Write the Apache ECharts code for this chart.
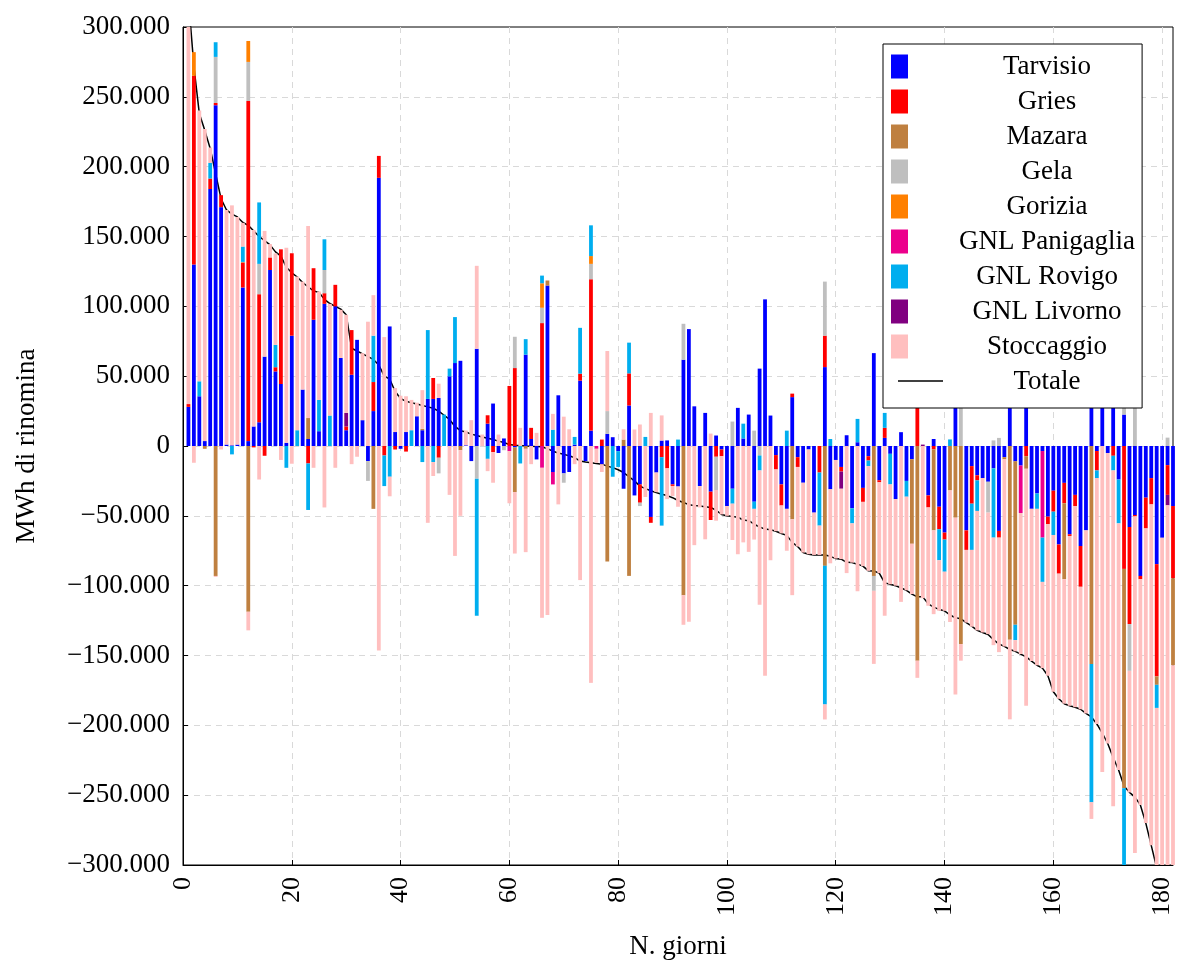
<!DOCTYPE html>
<html>
<head>
<meta charset="utf-8">
<script src="https://cdn.jsdelivr.net/npm/echarts@6/dist/echarts.min.js"></script>
<style>
  html, body { margin: 0; padding: 0; background: #fff; }
  #chart { width: 1177px; height: 965px; }
</style>
</head>
<body>
<div id="chart"></div>
<script>
// valori in migliaia di MWh, un valore per giorno (1..182), giorni ordinati per totale
const tarvisio = [
  28, 130, 35.6, 3.5, 184, 244, 171, 1, 0.5, 1,
  113.5, 3.5, 14, 17, 64, 126, 53.4, 44.4, 2.3, 79,
  0, 40.4, 5, 90.4, 10.6, 101.8, 0, 100, 63, 11.3,
  51, 76, 18.5, -10.8, 25, 192, 0, 85.6, 10, -2,
  10, 0, 21.3, 11.3, 33.7, 33.7, 34.4, 0, 49.9, 59.4,
  61, 0.5, -10.8, 69.6, 0, 16, 30.4, -5, 5.4, 0,
  -1, 0, 65.4, 5, -9.6, 0, 114.9, -18.6, 36.3, -19.6,
  -18.6, 1, 46.8, -10.8, 11, 0, -13, 8.7, 6.3, -3.7,
  -30.6, 29, -35.4, -27.5, 0, -50.8, -19, 3.9, 4, -27.5,
  -29, 61.8, 83.7, 28.4, -28.7, 23.7, -32.7, 7.5, -2.5, -43,
  -30.6, 27.3, 5.4, 22.5, -39.9, 55.4, 105, 21.8, -6.5, -27.5,
  -45, 35, -8, -26.3, -2.5, -47.7, 0, 56.5, -31, -10,
  -15, 7.7, -44.6, 2.7, -30, -7.3, 66.5, -24.5, 5.8, -5.6,
  -38, 9.9, -25, -9.5, 0, 0, -35.4, 5, -43.5, -62,
  0, 55, 0, -60.4, -14.4, -21, -23, -25.6, -16, -60.8,
  -8, 50, -11, -14, 35, -45, -34, -3.6, -50.6, -32,
  -70.5, -26.4, -63.2, -35, -71.6, -60.4, 73, -3.6, 28, -5,
  35, -24, 22.5, -58, -49.4, -93, -37, -23, -84.6, -65.7,
  -13.7, -43
];
const gries = [
  2, 135, 0, 0, 7.5, 1.6, 8.6, 0, 0, 0,
  17.8, 243.5, -1, 91.7, -7, 9, 3, 96.4, 0, 59,
  0, 0, -12.5, 36.9, 0, 7.6, 0, 15.4, 0, 2.7,
  32, 0, 0, 0, 20.8, 15.7, -6.8, 0, -2.5, 0,
  -4, 0, 0, 0, 0, 15, -8.4, 0, 0, 0,
  0, 0, 0, 0, 0, 6, -4.4, 0, 0, 43,
  55.8, 0, 0, 8, 0, 88, 0, 0, 0, 0,
  0, 0, 5, 0, 108.4, 0, 4.6, 0, 0, 0,
  0, 23, 0, -13.1, 0, -4.2, 0, -8, -16, -1.1,
  0, 0, 0, 0, 0, 0, -20.3, -7.7, -4.8, 0,
  0, 0, 0, 0, 0, 0, 0, 0, -10.3, -15.1,
  0, 2.5, -7, 0, 0, 0, -19, 22.5, 0, 0,
  -3.3, 0, 0, 0, -10, -3.1, 0, -1.5, 7.2, 0,
  0, 0, 0, 0, 58, 0, -8.6, -2.4, -16.1, -5,
  0, 0, 0, -14, -26.9, -3.6, 0, 0, 0, -4.8,
  0, 0, 0, 0, -7.3, 0, 0, 0, -5.4, -15,
  -20.9, -14.6, -1.2, -8, -29.2, 0, 0, -13.9, 0, 0,
  -7, 0, -88, -69.5, -1, -2.4, -22, -18.8, -80.4, 0,
  -21.3, -51.8
];
const mazara = [
  0, 0, 0, -2, 0, -93, 0, 0, 0, 0,
  0.5, -118.7, 0, 0, 0, 0, 0, 0, 0, 0,
  0, 0, 15, 0, 0, 0, 0, 0, 0, 0,
  0, 0, 0, 0, -45, 0, 0, 0, 0, 0,
  0, 0, 0, 1, 0, 0, 0, 0, 0, 0,
  -3, 0, 0, 0, 0, 0, 0, 0, 0, 0,
  -32, 0, -2, 0, 0, 0, 3.6, 0, 0, 0,
  0, 0, 0, 0, 0, 0, 0, -82.7, 0, 0,
  4.6, -93, 0, 0, 0, 0, 0, 0, 0, 0,
  0, -106.8, 0, 0, 0, 0, 0, 0, 0, 0,
  0, 0, 0, 0, 0, 0, 0, 0, 0, 0,
  0, -52.5, 0, 0, 0, 0, 0, -85.8, 0, 0,
  0, 0, 0, 0, 0, 0, -93, 0, 0, 0,
  0, 0, 0, -60.5, -153.7, 0, 0, -58, 0, 0,
  -31.8, -51.3, -141.8, 0, 0, 0, 0, 0, 0, 0,
  -1.5, -138.7, -117, 0, -9, 0, 0, 0, 0, 0,
  0, -54.4, 0, 0, 0, 0, -156, 0, 0, 0,
  0, 0, -157, 0, 0, 0, 0, 0, -6, 0,
  0, -62.2
];
const gela = [
  0, 0, 0, 0, 0, 33, 0, 0, 0, 0,
  0, 28, 0, 21.7, 0, 0, 0, 0, 0, 0,
  0, 0, 0, 0, 0, 16.6, 0, 0, 0, 0,
  0, 0, 0, -14.2, 0, 0, 0, 0, 0, 0,
  0, 0, 0, 0, 0, 0, -11.2, 0, 0, 0,
  0, 0, 0, -23.4, 0, 0, 0, 0, -3, 0,
  22.4, 0, 0, 0, 0, 11, 0, 0, 0, -6.7,
  0, 0, 0, 0, 11, 0, 0, 16.3, 0, 0,
  0, 0, 0, -2.4, 0, 0, 0, 0, 0, 0,
  0, 25.7, 0, 0, 0, 0, 0, -23.8, 0, 0,
  17.5, 0, 0, 0, 11, -6.8, 0, 0, 0, 0,
  0, 0, 0, 0, 0, 0, 0, 38.7, 0, 0,
  0, 0, 0, 0, 0, 0, -10.7, 0, 0, 0,
  0, 0, 0, 0, 0, 0, 0, 0, 0, 0,
  0, 0, 30, 0, 0, 0, 0, -22.1, 4, 5.8,
  0, 0, 0, 0, 0, 0, 0, 0, 0, 0,
  0, 0, 0, 0, 0, 0, 0, 0, 0, 0,
  0, 0, 37, -33.5, 40, 0, 0, 0, 0, 0,
  6, 0
];
const gorizia = [
  0, 17, 0, 0, 0, 0, 0, 0, 0, 0,
  0, 15, 0, 0, 0, 0, 0, 0, 0, 0,
  0, 0, 0, 0, 0, 0, 0, 0, 0, 0,
  0, 0, 0, 0, 0, 0, 0, 0, 0, 0,
  0, 0, 0, 0, 0, 0, 0, 0, 0, 0,
  0, 0, 0, 0, 0, 0, 0, 0, 0, 0,
  0, 0, 0, 0, 0, 17.5, 0, 0, 0, 0,
  0, 0, 0, 0, 5.6, 0, 0, 0, 0, 0,
  0, 0, 0, 0, 0, 0, 0, 0, 0, 0,
  0, 0, 0, 0, 0, 0, 0, 0, 0, 0,
  0, 0, 0, 0, 0, 0, 0, 0, 0, 0,
  0, 0, 0, 0, 0, 0, 0, 0, 0, 0,
  0, 0, 0, 0, 0, 0, 0, 0, 0, 0,
  0, 0, 0, 0, 0, 0, 0, 0, 0, 0,
  0, 0, 0, 0, 0, 0, 0, 0, 0, 0,
  0, 0, 0, 0, 0, 0, 0, 0, 0, 0,
  0, 0, 0, 0, 0, 0, 0, 0, 0, 0,
  0, 0, 0, 0, 0, 0, 0, 0, 0, 0,
  0, 0
];
const panigaglia = [
  0, 0, 0, 0, 0, 0, 0, 0, 0, 0,
  0, 0, 0, 0, 0, 0, 0, 0, 0, 0,
  0, 0, 0, 0, 0, 0, 0, 0, 0, 0,
  0, 0, 0, 0, 0, 0, 0, 0, 0, 0,
  0, 0, 0, 0, 0, 0, 0, 0, 0, 0,
  0, 0, 0, 0, 0, 0, 0, 0, 0, -3.7,
  0, 0, 0, 0, 0, -15.6, 0, -8.9, 0, 0,
  0, 0, 0, 0, 0, -2, 0, 0, 0, 0,
  0, 0, 0, 0, 0, 0, 0, 0, 0, 0,
  0, 0, 0, 0, 0, 0, 0, 0, 0, 0,
  0, 0, 0, 0, 0, 0, 0, 0, 0, 0,
  0, 0, 0, 0, 0, 0, 0, 0, 0, 0,
  0, 0, 0, 0, 0, 0, 0, 0, 0, 0,
  0, 0, 0, 0, 0, 0, 0, 0, 0, 0,
  0, 0, 0, 0, 0, 0, 0, 0, 0, 0,
  0, 0, 0, -34, 0, 0, 0, -62, 0, 0,
  0, 0, 0, 0, 0, 0, 0, 0, 0, 0,
  0, 0, 0, 0, 0, 0, 0, 0, 0, 0,
  0, 0
];
const rovigo = [
  0, 0, 10.7, 0, 11.2, 10.5, 0, 0, -6, 0,
  11, 0, 0, 44, 0, 0, 16, 0, -15.6, 0,
  11.3, 0, -33.3, 0, 22.4, 22, 21.8, 0, 0, 0,
  0, 0, 0, 0, 33.2, 0, -21.9, -22, 0, 0,
  0, 11.3, 0, -11.5, 49.3, -11.5, 0, 22.5, 5.5, 32.9,
  0, 0, 0, -98.1, 0, -9.2, 0, 0, 0, 0,
  0, -12.5, 11.1, 0, 0, 5.5, 0, 11.7, 0, 0,
  0, 5.5, 32.8, 0, 22, 0, 0, 0, -22, -11.3,
  0, 22, 0, 0, 6.5, 0, 0, -49, 0, 0,
  4.6, 0, 0, 0, 0, 0, 0, 0, 0, 0,
  -10.7, 0, 10.6, 0, -5.1, -10.7, 0, 0, 0, 0,
  11, 0, 0, 0, 0, 0, -38, -99.2, 5, 0,
  0, 0, -10.8, 16.7, 0, -4, 0, 0, 10.7, -21.9,
  0, 0, -11.3, 0, 0, 0, 0, 0, -22.2, -23,
  4.7, 0, 0, 0, -33.1, -21.9, 0, 0, -49.6, 0,
  0, 0, -11, 0, 0, 0, -11, -31.7, 0, -16.7,
  0, 0, 0, 0, 0, 0, -99, -5.5, 0, 0,
  -10.5, -31.4, -58, 0, 0, 0, 0, 0, -16.5, 0,
  0, 0
];
const livorno = [
  0, 0, 0, 0, 0, 0, 0, 0, 0, 0,
  0, 0, 0, 0, 0, 0, 0, 0, 0, 0,
  0, 0, 0, 0, 0, 0, 0, 0, 0, 9.7,
  0, 0, 0, 0, 0, 0, 0, 0, 0, 0,
  0, 0, 0, 0, 0, 0, 0, 0, 0, 0,
  0, 0, 0, 0, 0, 0, 0, 0, 0, 0,
  0, 0, 0, 0, 0, 0, 0, 0, 0, 0,
  0, 0, 0, 0, 0, 0, 0, 0, 0, 0,
  0, 0, 0, 0, 0, 0, 0, 0, 0, 0,
  0, 0, 0, 0, 0, 0, 0, 0, 0, 0,
  0, 0, 0, 0, 0, 0, 0, 0, 0, 0,
  0, 0, 0, 0, 0, 0, 0, 0, 0, 0,
  -12.3, 0, 0, 0, 0, 0, 0, 0, 0, 0,
  0, 0, 0, 0, 0, 1, 0, 0, 0, 0,
  0, 0, 0, 0, 0, 0, 0, 0, 0, 0,
  0, 0, 0, 0, 0, 0, 0, 0, 0, 0,
  0, 0, 0, 0, 0, 0, 0, 0, 0, 0,
  0, 0, 0, 0, 0, 0, 0, 0, 0, 0,
  -7.5, 0
];
// stoccaggio: erogazione (positiva) e iniezione (negativa) nello stesso giorno
const stoccaggioPos = [
  290, 0, 194, 223.5, 11, 0, 0, 168, 171.8, 163,
  17, 0, 140.6, 0, 90, 9.6, 65.5, 0, 139.7, 0,
  110, 77.3, 137.5, 0, 77.6, 0, 80, 0, 34.5, 70.3,
  0, 0, 48, 89, 29, 0, 78, 0, 31.5, 36,
  25.6, 21.7, 9.7, 27.7, 0, 0, 10.2, 0, 0, 0,
  0, 10.6, 18.5, 59.4, 8.2, 0, 0, 8.2, 0, 0,
  0, 13, 0, 0, 9.4, 0, 0, 11.3, 0, 21,
  12, 0, 0, 0, 0, 0, 0, 43, 0, 0,
  7.4, 0, 11.8, 15.4, 0, 23.7, 0, 18, 0, 0,
  0, 0, 0, 0, 0, 0, 8.9, 0, 0, 0,
  0, 0, 0, 0, 0, 0, 0, 0, 0, 0,
  0, 0, 0, 0, 0, 0, 0, 0, 0, 0,
  0, 0, 0, 0, 0, 0, 0, 0, 0, 0,
  0, 0, 0, 0, 0, 0, 0, 0, 0, 0,
  0, 0, 0, 0, 0, 0, 0, 0, 0, 0,
  0, 0, 0, 0, 0, 0, 0, 0, 0, 0,
  0, 0, 0, 0, 0, 0, 0, 0, 0, 0,
  0, 0, 0, 0, 0, 0, 0, 0, 0, 0,
  0, 0
];
const stoccaggioNeg = [
  0, -12, 0, 0, 0, -0.7, -2.5, 0, 0, 0,
  0, -13.3, 0, -24, 0, 0, 0, -10, 0, -12.7,
  0, 0, 0, -15.6, 0, -44, 0, -15.6, 0, 0,
  -13, -7.7, 0, 0, 0, -146.5, 0, -14, 0, 0,
  0, 0, 0, 0, -55, -10, 0, 0, -35, -78.7,
  -47, 0, 0, 0, 0, -8.8, -21.9, 0, 0, -37.3,
  -44, 0, -74, -13, 0, -107.4, -121, 0, -41.8, 0,
  0, -13, -96, 0, -169.6, -10, -5.6, 0, 0, 0,
  0, 0, 0, 0, -36.5, 0, -14, 0, -22, -7.2,
  -14.5, -21.2, -125.8, -71, -15.3, -66.8, 0, -22, -41.7, -7,
  -26, -77.5, -69, -75.8, -22, -96.2, -164.5, -81.8, -44.2, -20,
  -30, -54.3, -57, -50, -75, -30.3, -21, -10.8, -53, -70.6,
  -50.4, -91, -28.1, -104, -46, -75, -52.3, -65, -121.6, -71.5,
  -62, -111.6, -67, -36, -12.3, -109, -70.4, -60, -36.2, -28,
  -94.2, -126.7, -11.9, -52, -55, -85.5, -110.5, -87, -77, -82,
  -134, -57, -8, -101, -169.7, -109, -112, -61.7, -108.5, -112.3,
  -89.6, -89.1, -121.6, -144, -87.7, -131.1, -12, -176, -233.5, -208,
  -240.5, -176.6, 0, -87, -241, -161.6, -211, -244, -114.5, -249.3,
  -288.5, -178
];
const totale = [
  320, 272, 238, 226, 213, 195, 177, 169, 166, 164,
  160, 158, 154, 150, 147, 144, 139, 136, 128, 124,
  121, 117, 114, 111, 110, 105, 102, 100, 98, 94,
  70, 68, 66, 64, 62, 58, 50, 48, 39, 34,
  32, 31, 30, 29, 28, 27, 25, 22, 19, 14,
  11, 10, 8.5, 7.5, 6.5, 5.5, 4.6, 3.5, 2.5, 1,
  0.5, 0.3, 0, -0.2, -0.3, -0.5, -2, -3.7, -5, -6,
  -7, -8.4, -10.8, -11.5, -12, -12.5, -13, -14.4, -15.5, -17,
  -19, -22, -25, -28.7, -30.5, -32, -33.4, -34.5, -35.5, -37,
  -39, -40.5, -42, -42.6, -43, -43.5, -44, -46, -49, -50,
  -50.5, -51, -53, -53.5, -56, -58, -59.5, -60, -61, -62.6,
  -64, -69, -72, -76.3, -77.5, -78, -78, -78, -79, -80.6,
  -81, -83.3, -83.5, -84.6, -86, -89.4, -89.5, -91, -98, -99,
  -100, -101.7, -103.3, -106, -108, -108, -113, -115.4, -117, -118,
  -121, -123, -123.7, -126.4, -129, -132, -133.5, -135, -138.6, -141.8,
  -143.5, -145.7, -147, -149, -151, -154, -157, -159, -164.5, -176,
  -181, -184.5, -186, -187, -188.5, -191.5, -194, -199, -205.5, -213,
  -223, -232, -243.5, -248, -251.4, -257, -270, -286, -302, -315,
  -325, -335
];
const yTicks = [-300, -250, -200, -150, -100, -50, 0, 50, 100, 150, 200, 250, 300];
const xTickStep = 20;

// categorie 0..182: il giorno 0 resta vuoto, così l'asse parte da 0
const days = ['0'].concat(totale.map((_, i) => String(i + 1)));
const FONT = '"Liberation Serif", "DejaVu Serif", serif';

const chart = echarts.init(document.getElementById('chart'));

function onDays(values) {
  return [null].concat(values);
}

function barSeries(name, color, values) {
  return {
    name: name,
    type: 'bar',
    stack: 'flussi',
    barWidth: 3.8,
    z: 2,
    itemStyle: { color: color },
    emphasis: { disabled: true },
    data: onDays(values)
  };
}

function fmtMWh(v) {
  if (v === 0) return '0';
  return (v < 0 ? '\u2212' : '') + Math.abs(v) + '.000';
}

const everyStep = idx => idx % xTickStep === 0;

const series = [
  barSeries('Tarvisio', '#0000ff', tarvisio),
  barSeries('Gries', '#ff0000', gries),
  barSeries('Mazara', '#bf8040', mazara),
  barSeries('Gela', '#bfbfbf', gela),
  barSeries('Gorizia', '#ff8000', gorizia),
  barSeries('GNL Panigaglia', '#ec008c', panigaglia),
  barSeries('GNL Rovigo', '#00aeef', rovigo),
  barSeries('GNL Livorno', '#800080', livorno),
  barSeries('Stoccaggio', '#ffbfbf', stoccaggioPos),
  barSeries('Stoccaggio', '#ffbfbf', stoccaggioNeg),
  {
    name: 'Totale',
    type: 'line',
    z: 1,
    symbol: 'none',
    lineStyle: { color: '#000', width: 1.5 },
    itemStyle: { color: '#000' },
    emphasis: { disabled: true },
    data: onDays(totale)
  }
];

chart.setOption({
  animation: false,
  grid: {
    left: 183, right: 4, top: 27, bottom: 99,
    show: true, borderColor: '#000', borderWidth: 1, backgroundColor: 'transparent'
  },
  legend: {
    orient: 'vertical',
    left: 883,
    top: 44,
    padding: [9, 7, 13, 8],
    itemWidth: 17,
    itemHeight: 24,
    itemGap: 8,
    backgroundColor: '#fff',
    borderColor: '#000',
    borderWidth: 1,
    borderRadius: 0,
    z: 10,
    selectedMode: false,
    data: [
      { name: 'Tarvisio', icon: 'rect' },
      { name: 'Gries', icon: 'rect' },
      { name: 'Mazara', icon: 'rect' },
      { name: 'Gela', icon: 'rect' },
      { name: 'Gorizia', icon: 'rect' },
      { name: 'GNL Panigaglia', icon: 'rect' },
      { name: 'GNL Rovigo', icon: 'rect' },
      { name: 'GNL Livorno', icon: 'rect' },
      { name: 'Stoccaggio', icon: 'rect' },
      { name: 'Totale', icon: 'rect', itemStyle: { opacity: 0 }, lineStyle: { opacity: 0 } }
    ],
    formatter: function (name) { return '{s|\u00a0}{c|' + name + '}'; },
    textStyle: {
      color: '#000',
      fontSize: 27,
      fontFamily: FONT,
      rich: {
        s: { width: 22, fontSize: 27, fontFamily: FONT },
        c: { width: 224, align: 'center', fontSize: 27, fontFamily: FONT, color: '#000' }
      }
    }
  },
  graphic: [
    {
      type: 'line',
      z: 100,
      shape: { x1: 898, y1: 381, x2: 943, y2: 381 },
      style: { stroke: '#000', lineWidth: 1.5 }
    }
  ],
  xAxis: {
    type: 'category',
    data: days,
    boundaryGap: false,
    name: 'N. giorni',
    nameLocation: 'middle',
    nameGap: 68,
    nameTextStyle: { fontFamily: FONT, fontSize: 27, color: '#000' },
    axisLine: { show: true, onZero: false, lineStyle: { color: '#000', width: 1 } },
    axisTick: { show: true, inside: true, length: 5, interval: everyStep, lineStyle: { color: '#000' } },
    axisLabel: { rotate: 90, margin: 12, interval: everyStep, fontFamily: FONT, fontSize: 26, color: '#000' },
    splitLine: {
      show: true, interval: everyStep,
      lineStyle: { color: '#d9d9d9', type: [6, 5], width: 1 }
    }
  },
  yAxis: {
    type: 'value',
    min: yTicks[0],
    max: yTicks[yTicks.length - 1],
    interval: 50,
    name: 'MWh di rinomina',
    nameLocation: 'middle',
    nameRotate: 90,
    nameGap: 143,
    nameTextStyle: { fontFamily: FONT, fontSize: 27, color: '#000' },
    axisLine: { show: true, lineStyle: { color: '#000', width: 1 } },
    axisTick: { show: true, inside: true, length: 5, lineStyle: { color: '#000' } },
    axisLabel: { margin: 13, fontFamily: FONT, fontSize: 27, color: '#000', formatter: fmtMWh },
    splitLine: {
      show: true, showMinLine: false, showMaxLine: false,
      lineStyle: { color: '#d9d9d9', type: [6, 5], width: 1 }
    }
  },
  series: series
});
</script>
</body>
</html>
